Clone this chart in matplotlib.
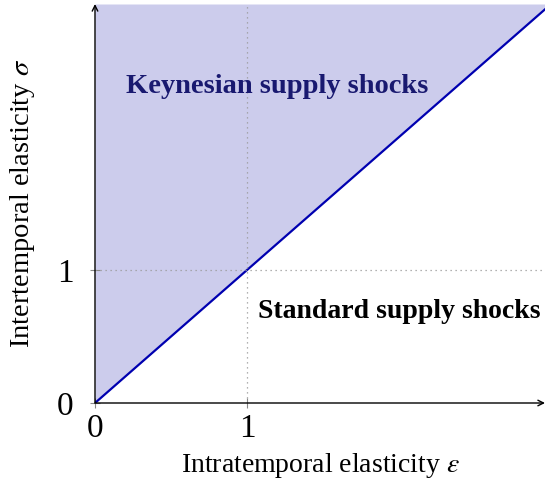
import numpy as np
import matplotlib.pyplot as plt

# data
x_max = 2.96
y_max = 3.0
boundary_x = [0, x_max]
boundary_y = [0, x_max]
ticks = [0, 1]
tick_labels = ['0', '1']

plt.rcParams['font.family'] = ['Liberation Serif', 'DejaVu Serif']
plt.rcParams['mathtext.fontset'] = 'stix'

fig = plt.figure(figsize=(5.45, 4.93), dpi=100)
ax = fig.add_axes([95/545, 90/493, 1 - 95/545, (403 - 4)/493])

# shaded Keynesian region above the 45 degree line
ax.fill_between(boundary_x, boundary_y, y_max, color='#ccccec', lw=0)
ax.plot(boundary_x, boundary_y, color='#0000b0', lw=1.6)

# dotted guides at 1
ax.axvline(1, color='#999999', ls=(0, (1, 3)), lw=0.9)
ax.axhline(1, color='#999999', ls=(0, (1, 3)), lw=0.9)

ax.set_xlim(0, x_max)
ax.set_ylim(0, y_max)
for s in ax.spines.values():
    s.set_visible(False)

# axis arrows
ax.annotate('', xy=(x_max, 0), xytext=(0, 0), annotation_clip=False,
            arrowprops=dict(arrowstyle='->', color='black', lw=1.0, shrinkA=0, shrinkB=0))
ax.annotate('', xy=(0, y_max), xytext=(0, 0), annotation_clip=False,
            arrowprops=dict(arrowstyle='->', color='black', lw=1.0, shrinkA=0, shrinkB=0))

ax.set_xticks(ticks)
ax.set_xticklabels(tick_labels)
ax.set_yticks(ticks)
ax.set_yticklabels(tick_labels)
ax.tick_params(direction='inout', length=7, width=0.8, color='#888888', labelsize=24)
ax.tick_params(axis='x', pad=4)
ax.tick_params(axis='y', pad=12)

ax.set_xlabel(r'Intratemporal elasticity $\epsilon$', fontsize=20, labelpad=5)
ax.set_ylabel(r'Intertemporal elasticity $\sigma$', fontsize=20.5, labelpad=14)

ax.text(1.2, 2.38, 'Keynesian supply shocks', color='#191970', fontsize=20.5,
        fontweight='bold', ha='center', va='center')
ax.text(2.0, 0.69, 'Standard supply shocks', color='black', fontsize=20,
        fontweight='bold', ha='center', va='center')

fig.savefig('out.png', dpi=100)
